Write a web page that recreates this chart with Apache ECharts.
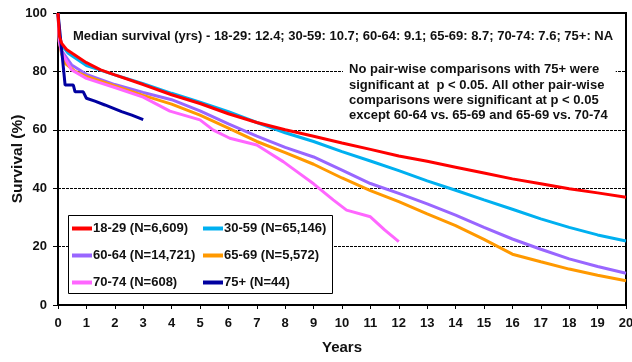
<!DOCTYPE html>
<html>
<head>
<meta charset="utf-8">
<script src="https://cdn.jsdelivr.net/npm/echarts@6/dist/echarts.min.js"></script>
<style>html,body{margin:0;padding:0;background:#fff}#c{width:632px;height:362px}</style>
</head>
<body>
<div id="c"></div>
<script>
var yTicks = [0, 20, 40, 60, 80, 100];
var xTicks = [0,1,2,3,4,5,6,7,8,9,10,11,12,13,14,15,16,17,18,19,20];

var names = ['18-29 (N=6,609)', '30-59 (N=65,146)', '60-64 (N=14,721)', '65-69 (N=5,572)', '70-74 (N=608)', '75+ (N=44)'];

var t1829 = [0, 0.05, 0.13, 0.3, 0.5, 1, 1.5, 2, 3, 4, 5, 6, 7, 8, 9, 10, 11, 12, 13, 14, 15, 16, 17, 18, 19, 20];
var v1829 = [100, 92, 89.6, 87.5, 86.2, 83, 80.5, 78.8, 75.5, 72, 69, 65.5, 62.5, 60, 57.8, 55.5, 53.3, 51, 49.2, 47.2, 45.2, 43.2, 41.5, 39.8, 38.4, 36.9];

var t3059 = [0, 0.05, 0.13, 0.36, 1, 1.65, 2, 3, 4, 5, 6, 7, 8, 9, 10, 11, 12, 13, 14, 15, 16, 17, 18, 19, 20];
var v3059 = [100, 91, 89, 86.2, 82, 79.9, 78.8, 75.8, 72.5, 69.5, 66.2, 62.5, 59, 56, 52.5, 49.3, 46, 42.5, 39.3, 36, 32.8, 29.5, 26.6, 24, 21.9];

var t6064 = [0, 0.05, 0.13, 0.48, 1, 2, 3, 4, 5, 6, 7, 8, 9, 10, 11, 12, 13, 14, 15, 16, 17, 18, 19, 20];
var v6064 = [100, 90, 87, 82.2, 79, 75.5, 72.8, 70.3, 66.5, 62, 57.8, 54, 50.7, 46.2, 41.6, 38.2, 34.6, 30.8, 26.6, 22.6, 19.1, 15.8, 13.2, 10.9];

var t6569 = [0, 0.05, 0.13, 0.25, 0.6, 1, 2, 3, 4, 5, 6, 7, 8, 9, 10, 11, 12, 13, 14, 15, 16, 17, 18, 19, 20];
var v6569 = [100, 90, 86, 82.8, 80, 78.3, 75, 71.8, 68.8, 65, 60.6, 56, 52.2, 48.2, 43.5, 39.2, 35.4, 31.2, 27.2, 22.5, 17.4, 14.8, 12.3, 10.2, 8.3];

var t7074 = [0, 0.05, 0.13, 0.48, 1, 2, 3, 3.94, 5, 5.47, 6.05, 7, 7.46, 7.93, 8.34, 9, 9.69, 10.16, 11, 11.5, 12];
var v7074 = [100, 90, 86.5, 80.5, 77.6, 74.5, 71.2, 66.4, 63.4, 59.9, 57.1, 54.8, 52, 49.1, 46.2, 41.5, 36, 32.5, 30.2, 25.7, 21.7];

var t75 = [0, 0.25, 0.54, 0.6, 0.89, 1.0, 1.3, 1.65, 2.24, 2.6, 3.0];
var v75 = [100, 75.3, 75.3, 73, 73, 70.8, 69.8, 68.5, 66.2, 65, 63.5];

var colors = ['#ff0000', '#00b0f0', '#9966ff', '#ff9900', '#ff66ff', '#0000a0'];

var medianText = 'Median survival (yrs) - 18-29: 12.4; 30-59: 10.7; 60-64: 9.1; 65-69: 8.7; 70-74: 7.6; 75+: NA';
var noteLines = ['No pair-wise comparisons with 75+ were', 'significant at  p < 0.05. All other pair-wise', 'comparisons were significant at p < 0.05', 'except 60-64 vs. 65-69 and 65-69 vs. 70-74'];

function zip(t, v) { return t.map(function (x, i) { return [x, v[i]]; }); }
var allT = [t1829, t3059, t6064, t6569, t7074, t75];
var allV = [v1829, v3059, v6064, v6569, v7074, v75];

var FONT = '"Liberation Sans", Arial, sans-serif';
var chart = echarts.init(document.getElementById('c'), null, {renderer: 'canvas'});

var series = names.map(function (n, i) {
  return {
    name: n, type: 'line', data: zip(allT[i], allV[i]),
    showSymbol: false, symbol: 'none', smooth: false,
    lineStyle: {color: colors[i], width: 3}, itemStyle: {color: colors[i]},
    z: 3 + (i === 0 ? 1 : 0), animation: false
  };
});

var legendCommon = {
  orient: 'vertical', itemWidth: 20, itemHeight: 4, itemGap: 14, icon: 'rect', padding: 0,
  textStyle: {fontFamily: FONT, fontWeight: 'bold', fontSize: 13, color: '#111', padding: [0, 0, 0, -4]},
  selectedMode: false
};

chart.setOption({
  animation: false,
  backgroundColor: '#fff',
  grid: {left: 58, right: 6, top: 13, bottom: 57, show: true, borderColor: '#000', borderWidth: 2,
    backgroundColor: 'transparent', containLabel: false, outerBoundsMode: 'none'},
  xAxis: {
    type: 'value', min: 0, max: 20, interval: 1,
    name: 'Years', nameLocation: 'middle', nameGap: 35, nameMoveOverlap: false,
    nameTextStyle: {fontFamily: FONT, fontWeight: 'bold', fontSize: 15, color: '#111'},
    axisLine: {show: true, lineStyle: {color: '#000', width: 2}},
    axisTick: {show: true, inside: false, length: 4, lineStyle: {color: '#000', width: 1}},
    axisLabel: {margin: 12, fontFamily: FONT, fontWeight: 'bold', fontSize: 13, color: '#111',
      formatter: function (v) { return xTicks.indexOf(v) >= 0 ? String(v) : ''; }},
    splitLine: {show: false}
  },
  yAxis: {
    type: 'value', min: 0, max: 100, interval: 20,
    name: 'Survival (%)', nameLocation: 'middle', nameGap: 32, nameMoveOverlap: false,
    nameTextStyle: {fontFamily: FONT, fontWeight: 'bold', fontSize: 15.5, color: '#111'},
    axisLine: {show: true, lineStyle: {color: '#000', width: 2}},
    axisTick: {show: true, inside: false, length: 5, lineStyle: {color: '#000', width: 1}},
    axisLabel: {margin: 11, fontFamily: FONT, fontWeight: 'bold', fontSize: 13, color: '#111',
      formatter: function (v) { return yTicks.indexOf(v) >= 0 ? String(v) : ''; }},
    splitLine: {show: true, lineStyle: {color: '#000', width: 1, type: [3, 1]}}
  },
  legend: [
    Object.assign({left: 72, top: 222, data: [names[0], names[2], names[4]]}, legendCommon),
    Object.assign({left: 203, top: 222, data: [names[1], names[3], names[5]]}, legendCommon)
  ],
  graphic: [
    {type: 'rect', left: 68, top: 215, z: 1, shape: {width: 264, height: 78},
      style: {fill: '#fff', stroke: '#000', lineWidth: 1}},
    {type: 'text', left: 73, top: 30, z: 10,
      style: {text: medianText, fontFamily: FONT, fontWeight: 'bold', fontSize: 13, fill: '#111'}},
    {type: 'text', left: 343, top: 62, z: 10,
      style: {text: noteLines.join('\n'), fontFamily: FONT, fontWeight: 'bold', fontSize: 13, lineHeight: 15.3,
        fill: '#111', backgroundColor: '#fff', padding: [0, 8, 0, 6]}}
  ],
  series: series
});
</script>
</body>
</html>
